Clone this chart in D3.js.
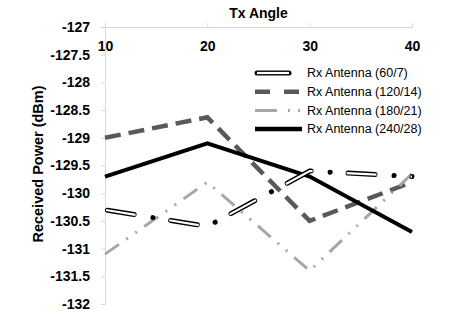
<!DOCTYPE html>
<html>
<head>
<meta charset="utf-8">
<script src="https://cdn.jsdelivr.net/npm/d3@7/dist/d3.min.js"></script>
<style>
  body { margin: 0; background: #fff; }
  text { font-family: "Liberation Sans", Arial, sans-serif; }
</style>
</head>
<body>
<svg id="chart" width="449" height="318"></svg>
<script>
// data
var angles = [10, 20, 30, 40];
var yTicks = [-127, -127.5, -128, -128.5, -129, -129.5, -130, -130.5, -131, -131.5, -132];
var seriesNames = ["Rx Antenna (60/7)", "Rx Antenna (120/14)", "Rx Antenna (180/21)", "Rx Antenna (240/28)"];
var rx60 = [-130.3, -130.6, -129.6, -129.7];
var rx120 = [-129.0, -128.63, -130.5, -129.8];
var rx180 = [-131.1, -129.8, -131.4, -129.65];
var rx240 = [-129.7, -129.1, -129.7, -130.7];

var svg = d3.select("#chart");
var margin = {top: 27, right: 37, bottom: 14, left: 105};
var width = 449 - margin.left - margin.right,
    height = 318 - margin.top - margin.bottom;

var x = d3.scaleLinear().domain([10, 40]).range([0, width]);
var y = d3.scaleLinear().domain([-127, -132]).range([0, height]);

var g = svg.append("g")
    .attr("transform", "translate(" + margin.left + "," + margin.top + ")");

// axes
var xAxis = d3.axisTop(x).tickValues(angles).tickSize(4).tickFormat(d3.format("d"));
var yAxis = d3.axisLeft(y).tickValues(yTicks).tickSize(4).tickFormat(function(d) { return d; });

var gx = g.append("g").call(xAxis);
gx.select(".domain").attr("stroke", "#d9d9d9");
gx.selectAll(".tick line").attr("stroke", "#d9d9d9");
gx.selectAll(".tick text")
    .attr("y", 20)
    .attr("dy", "0.32em")
    .attr("font-size", 14)
    .attr("font-weight", "bold")
    .attr("fill", "#000");

var gy = g.append("g").call(yAxis);
gy.select(".domain").attr("stroke", "#d9d9d9");
gy.selectAll(".tick line").attr("stroke", "#d9d9d9");
gy.selectAll(".tick text")
    .attr("x", -15)
    .attr("font-size", 14)
    .attr("font-weight", "bold")
    .attr("fill", "#000");

// titles
svg.append("text")
    .attr("x", margin.left + width / 2)
    .attr("y", 18)
    .attr("text-anchor", "middle")
    .attr("font-size", 14)
    .attr("font-weight", "bold")
    .text("Tx Angle");

svg.append("text")
    .attr("transform", "translate(43," + 164 + ") rotate(-90)")
    .attr("text-anchor", "middle")
    .attr("font-size", 14.5)
    .attr("font-weight", "bold")
    .text("Received Power (dBm)");

var line = d3.line()
    .x(function(d, i) { return x(angles[i]); })
    .y(function(d) { return y(d); });

// series styles
var styles = [
  {data: rx60, layers: [
    {stroke: "#000", width: 5, dash: "27 19 0.1 17.9", offset: -2.5, cap: "round"},
    {stroke: "#fff", width: 2.2, dash: "30 34", offset: -1, cap: "butt"}
  ]},
  {data: rx120, layers: [{stroke: "#595959", width: 4.5, dash: "16 8", offset: 0, cap: "butt"}]},
  {data: rx180, layers: [{stroke: "#a6a6a6", width: 3, dash: "17 9 2 9 2 9", offset: 0, cap: "butt"}]},
  {data: rx240, layers: [{stroke: "#000", width: 4, dash: null, offset: 0, cap: "butt"}]}
];

var plot = g.append("g");
// draw order: 120, 180, 240, then the outlined 60/7 on top
[1, 2, 3, 0].forEach(function(k) {
  var s = styles[k];
  s.layers.forEach(function(l) {
    plot.append("path")
        .datum(s.data)
        .attr("fill", "none")
        .attr("stroke", l.stroke)
        .attr("stroke-width", l.width)
        .attr("stroke-dasharray", l.dash)
        .attr("stroke-dashoffset", l.offset)
        .attr("stroke-linecap", l.cap)
        .attr("stroke-linejoin", "miter")
        .attr("d", line);
  });
});

// legend
var legend = svg.append("g").attr("transform", "translate(255,73)");
var legendStyles = [
  [{x1: 2, x2: 34, stroke: "#000", width: 5, dash: null, cap: "round"},
   {x1: 2, x2: 34, stroke: "#fff", width: 2.2, dash: null, cap: "butt"}],
  [{x1: 0, x2: 44, stroke: "#595959", width: 4.5, dash: "15 14 15", cap: "butt"}],
  [{x1: 0, x2: 47, stroke: "#a6a6a6", width: 3, dash: "22 11 2 8 2", cap: "butt"}],
  [{x1: 0, x2: 47, stroke: "#000", width: 4.5, dash: null, cap: "butt"}]
];
seriesNames.forEach(function(name, i) {
  var row = legend.append("g").attr("transform", "translate(0," + (i * 18.7) + ")");
  legendStyles[i].forEach(function(l) {
    row.append("line")
        .attr("x1", l.x1)
        .attr("x2", l.x2)
        .attr("y1", 0).attr("y2", 0)
        .attr("stroke", l.stroke)
        .attr("stroke-width", l.width)
        .attr("stroke-dasharray", l.dash)
        .attr("stroke-linecap", l.cap);
  });
  row.append("text")
      .attr("x", 52)
      .attr("dy", "0.35em")
      .attr("font-size", 12.5)
      .text(name);
});
</script>
</body>
</html>
